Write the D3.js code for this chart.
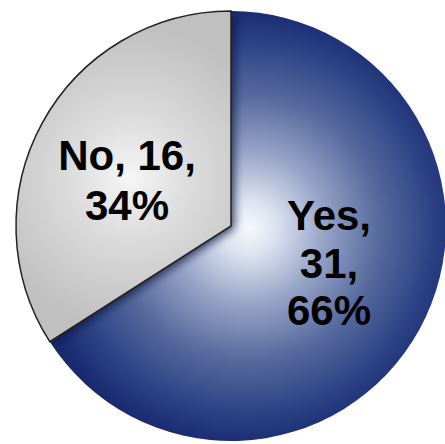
<!DOCTYPE html>
<html>
<head>
<meta charset="utf-8">
<script src="https://cdn.jsdelivr.net/npm/d3@7"></script>
<style>
  html, body { margin: 0; padding: 0; background: #ffffff; }
  svg { display: block; }
</style>
</head>
<body>
<svg id="chart" width="445" height="444"></svg>
<script>
// Survey answers
const categories = ["Yes", "No"];
const counts = [31, 16];
const percents = [66, 34];

const width = 445, height = 444;
const cx = 231, cy = 226, radius = 215;

const svg = d3.select("#chart");
const defs = svg.append("defs");

// Gradients are defined in the pie group's own coordinates (origin = pie centre)
// Yes: bright centre fading to navy at the rim
const gYes = defs.append("radialGradient")
  .attr("id", "gradYes")
  .attr("gradientUnits", "userSpaceOnUse")
  .attr("cx", 15).attr("cy", 2).attr("r", radius + 5)
  .attr("fx", 18).attr("fy", 2);
[[0, "#f6f8fc"], [0.12, "#dde3f0"], [0.35, "#95a3c6"], [0.6, "#566a9e"], [0.85, "#2c4184"], [1, "#192a70"]]
  .forEach(([o, c]) => gYes.append("stop").attr("offset", o).attr("stop-color", c));

// No: light grey with a soft highlight behind its label
const gNo = defs.append("radialGradient")
  .attr("id", "gradNo")
  .attr("gradientUnits", "userSpaceOnUse")
  .attr("cx", 130 - cx).attr("cy", 177 - cy).attr("r", 150);
[[0, "#f6f6f6"], [0.4, "#dcdcdc"], [1, "#c0c0c0"]]
  .forEach(([o, c]) => gNo.append("stop").attr("offset", o).attr("stop-color", c));

const shadow = defs.append("filter").attr("id", "shadow")
  .attr("x", "-20%").attr("y", "-20%").attr("width", "140%").attr("height", "140%");
shadow.append("feGaussianBlur").attr("stdDeviation", 5);

const pie = d3.pie().sort(null).value(d => d.count);
const data = categories.map((c, i) => ({ name: c, count: counts[i], pct: percents[i] }));
const arcs = pie(data);
const arc = d3.arc().innerRadius(0).outerRadius(radius);

const g = svg.append("g").attr("transform", `translate(${cx},${cy})`);

// Yes slice first
g.append("path").attr("d", arc(arcs[0])).attr("fill", "url(#gradYes)");

// Soft shadow cast by the No slice onto the Yes slice
defs.append("clipPath").attr("id", "clipYes")
  .append("path").attr("d", arc(arcs[0]));
g.append("g").attr("clip-path", "url(#clipYes)")
  .append("path")
  .attr("transform", "translate(3,2)")
  .attr("d", arc(arcs[1]))
  .attr("fill", "#0a1440")
  .attr("opacity", 0.85)
  .attr("filter", "url(#shadow)");

// No slice
g.append("path").attr("d", arc(arcs[1]))
  .attr("fill", "url(#gradNo)")
  .attr("stroke", "#222")
  .attr("stroke-width", 1.5)
  .attr("stroke-linejoin", "miter");

// Labels
const labelPos = { Yes: [329, 230], No: [127, 170] };
const lines = {
  Yes: d => [`${d.name},`, `${d.count},`, `${d.pct}%`],
  No: d => [`${d.name}, ${d.count},`, `${d.pct}%`]
};
const lineH = { Yes: 47.5, No: 50 };

data.forEach(d => {
  const [x, y] = labelPos[d.name];
  const t = svg.append("text")
    .attr("x", x).attr("y", y)
    .attr("text-anchor", "middle")
    .attr("font-family", "'Liberation Sans', Arial, sans-serif")
    .attr("font-weight", "bold")
    .attr("font-size", 42)
    .attr("fill", "#000");
  lines[d.name](d).forEach((s, i) => {
    t.append("tspan").attr("x", x).attr("y", y + i * lineH[d.name]).text(s);
  });
});
</script>
</body>
</html>
